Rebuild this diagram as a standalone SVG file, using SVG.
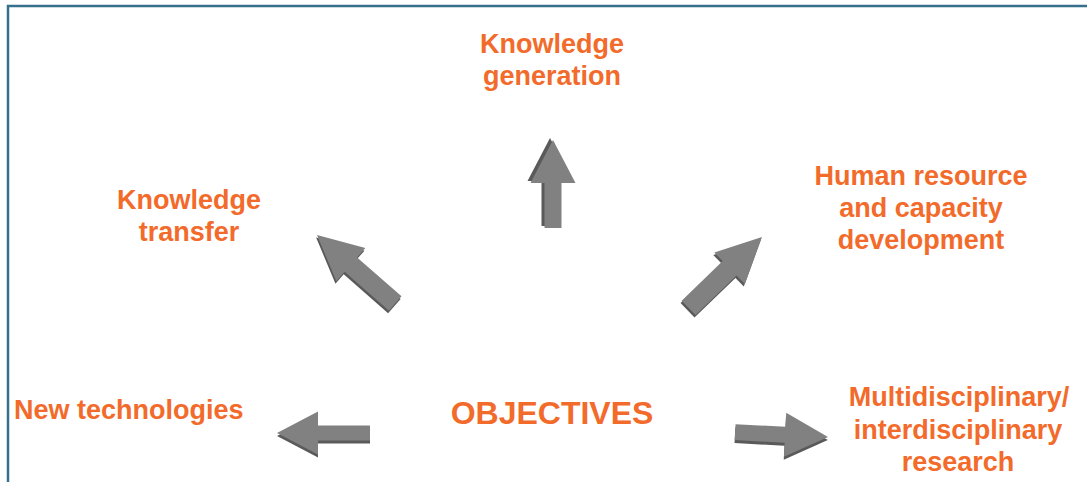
<svg xmlns="http://www.w3.org/2000/svg" width="1087" height="482" viewBox="0 0 1087 482">
<style>
.t{font-family:"Liberation Sans",Arial,sans-serif;font-weight:bold;font-size:27px;fill:#f26b2b;text-anchor:middle}
.big{font-size:32px}
.sh{fill:#5a5a5a}
.ar{fill:#818181}
</style>
<rect width="1087" height="482" fill="#ffffff"/>
<path d="M8,482 V6 H1087" fill="none" stroke="#36708c" stroke-width="2.5"/>
<g id="connectors">
  <g transform="translate(553,140) rotate(-90)">
    <path class="sh" transform="translate(2,-3)" d="M0,0 L-43,-22.5 L-43,-8.5 L-88,-8.5 L-88,8.5 L-43,8.5 L-43,22.5 Z"/>
    <path class="ar" d="M0,0 L-43,-22.5 L-43,-8.5 L-88,-8.5 L-88,8.5 L-43,8.5 L-43,22.5 Z"/>
  </g>
  <g transform="translate(317,235) rotate(-138.8)">
    <path class="sh" transform="translate(-1,-2.5)" d="M0,0 L-45,-22 L-45,-9.5 L-104,-9.5 L-104,9.5 L-45,9.5 L-45,22 Z"/>
    <path class="ar" d="M0,0 L-45,-22 L-45,-9.5 L-104,-9.5 L-104,9.5 L-45,9.5 L-45,22 Z"/>
  </g>
  <g transform="translate(762,237) rotate(-44)">
    <path class="sh" transform="translate(-2.5,1)" d="M0,0 L-45,-22 L-45,-10 L-102,-10 L-102,10 L-45,10 L-45,22 Z"/>
    <path class="ar" d="M0,0 L-45,-22 L-45,-10 L-102,-10 L-102,10 L-45,10 L-45,22 Z"/>
  </g>
  <g transform="translate(277,433) rotate(180)">
    <path class="sh" transform="translate(0,-3)" d="M0,0 L-41,-21.5 L-41,-7.5 L-93,-7.5 L-93,7.5 L-41,7.5 L-41,21.5 Z"/>
    <path class="ar" d="M0,0 L-41,-21.5 L-41,-7.5 L-93,-7.5 L-93,7.5 L-41,7.5 L-41,21.5 Z"/>
  </g>
  <g transform="translate(828,437) rotate(3)">
    <path class="sh" transform="translate(0,3)" d="M0,0 L-43,-22 L-43,-8 L-93,-8 L-93,8 L-43,8 L-43,22 Z"/>
    <path class="ar" d="M0,0 L-43,-22 L-43,-8 L-93,-8 L-93,8 L-43,8 L-43,22 Z"/>
  </g>
</g>
<g id="objectives"><text class="t big" x="552" y="424">OBJECTIVES</text></g>
<g id="knowledge-generation"><text class="t" x="552" y="53">Knowledge</text><text class="t" x="552" y="85">generation</text></g>
<g id="knowledge-transfer"><text class="t" x="189" y="209">Knowledge</text><text class="t" x="189" y="241">transfer</text></g>
<g id="human-resource"><text class="t" x="921" y="185">Human resource</text><text class="t" x="921" y="217">and capacity</text><text class="t" x="921" y="249">development</text></g>
<g id="new-technologies"><text class="t" x="14" y="419" style="text-anchor:start">New technologies</text></g>
<g id="multidisciplinary"><text class="t" x="959" y="406">Multidisciplinary/</text><text class="t" x="958" y="439">interdisciplinary</text><text class="t" x="958" y="471">research</text></g>
</svg>
